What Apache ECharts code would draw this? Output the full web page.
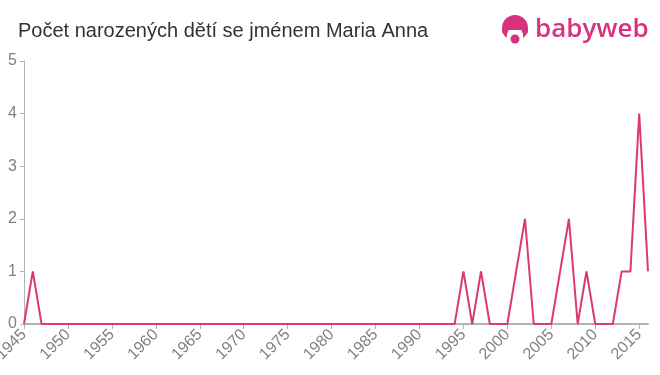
<!DOCTYPE html>
<html>
<head>
<meta charset="utf-8">
<script src="https://cdn.jsdelivr.net/npm/echarts@6/dist/echarts.min.js"></script>
<style>html,body{margin:0;padding:0;background:#fff}#c{width:660px;height:375px}</style>
</head>
<body>
<div id="c"></div>
<script>
var years = [];
for (var y = 1945; y <= 2016; y++) years.push(String(y));
// counts per year 1945..2016
var counts = [
  0,1,0,0,0, 0,0,0,0,0,   // 1945-1954
  0,0,0,0,0, 0,0,0,0,0,   // 1955-1964
  0,0,0,0,0, 0,0,0,0,0,   // 1965-1974
  0,0,0,0,0, 0,0,0,0,0,   // 1975-1984
  0,0,0,0,0, 0,0,0,0,0,   // 1985-1994
  1,0,1,0,0, 0,1,2,0,0,   // 1995-2004
  0,1,2,0,1, 0,0,0,1,1,   // 2005-2014
  4,1                     // 2015-2016
];
var yTicks = [0,1,2,3,4,5];
var titleText = 'Počet narozených dětí se jménem Maria Anna';
var lineColor = '#dc3a6c';
var logoColor = '#d8327f';

var chart = echarts.init(document.getElementById('c'));
chart.setOption({
  animation: false,
  backgroundColor: '#fff',
  title: {
    text: titleText, left: 13, top: 16,
    textStyle: {fontFamily: 'Liberation Sans, Arial, sans-serif', fontSize: 20, fontWeight: 'normal', color: '#333'}
  },
  graphic: [
    {type: 'circle', shape: {cx: 515, cy: 28, r: 13}, style: {fill: logoColor}},
    {type: 'circle', shape: {cx: 515, cy: 40, r: 9}, style: {fill: '#fff'}},
    {type: 'rect', shape: {x: 507, y: 30, width: 16, height: 8, r: 3}, style: {fill: '#fff'}},
    {type: 'circle', shape: {cx: 515, cy: 39, r: 4.5}, style: {fill: logoColor}},
    {type: 'circle', shape: {cx: 505, cy: 31, r: 3}, style: {fill: logoColor}},
    {type: 'circle', shape: {cx: 525, cy: 31, r: 3}, style: {fill: logoColor}},
    {type: 'text', left: 535, top: 17, style: {text: 'babyweb', fill: logoColor, font: '600 26px "Open Sans", "Liberation Sans", sans-serif'}}
  ],
  grid: {left: 24, right: 12, top: 61, bottom: 51, containLabel: false, outerBoundsMode: 'none'},
  xAxis: {
    type: 'category', data: years, boundaryGap: false,
    axisLine: {lineStyle: {color: '#b3b3b3', width: 2}},
    axisTick: {interval: 4, length: 5, lineStyle: {color: '#b3b3b3', width: 1}, alignWithLabel: true},
    axisLabel: {interval: 4, rotate: 45, color: '#808080', fontSize: 16, fontFamily: 'Liberation Sans, Arial, sans-serif', margin: 8},
    splitLine: {show: false}
  },
  yAxis: {
    type: 'value', min: 0, max: 5, interval: 1,
    axisLine: {show: true, lineStyle: {color: '#b3b3b3', width: 1}},
    axisTick: {show: true, length: 4, lineStyle: {color: '#b3b3b3'}},
    axisLabel: {color: '#808080', fontSize: 16, fontFamily: 'Liberation Sans, Arial, sans-serif', margin: 7},
    splitLine: {show: false}
  },
  series: [{
    type: 'line', data: counts, symbol: 'none',
    lineStyle: {color: lineColor, width: 2},
    z: 3
  }]
});
</script>
</body>
</html>
